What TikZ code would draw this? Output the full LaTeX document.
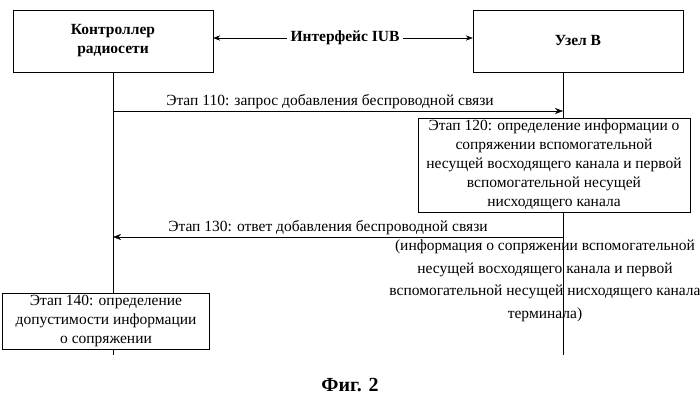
\documentclass[tikz,border=0pt]{standalone}
\usepackage{fontspec}
\setmainfont{Liberation Serif}
\usetikzlibrary{arrows.meta}

\begin{document}
\begin{tikzpicture}[x=1pt, y=-1pt, font=\fontsize{15.5}{19}\selectfont,
    entity/.style={draw, minimum width=200pt, minimum height=62pt, align=center, font=\fontsize{15.5}{19}\selectfont\bfseries},
    stepbox/.style={draw, fill=white, align=center, inner sep=2pt},
    msg/.style={-{Stealth[length=8pt]}}]
    \useasboundingbox (0,0) rectangle (700,401);
    % participants
    \node[entity] (rnc) at (113,41) {Контроллер\\радиосети};
    \node[entity, minimum width=210pt] (nodeb) at (578,41) {Узел В};
    \node[font=\fontsize{15.5}{19}\selectfont\bfseries] (iub) at (345,38) {Интерфейс IUB};
    \draw[{Stealth[length=7pt]}-] (rnc.east |- iub) -- (iub.west);
    \draw[-{Stealth[length=7pt]}] (iub.east) -- (nodeb.west |- iub);
    % lifelines
    \coordinate (rncend) at (113,355);
    \coordinate (nbend) at (563,355);
    \draw (rnc.south -| rncend) -- (rncend);
    \draw (nodeb.south -| nbend) -- (nbend);
    % messages
    \coordinate (m1a) at (113,111);
    \coordinate (m1b) at (563,111);
    \draw[msg] (m1a) -- node[above, yshift=-1pt, xshift=-8pt] (l110) {Этап 110: запрос добавления беспроводной связи} (m1b);
    \node[stepbox, minimum width=272pt, minimum height=94pt] (s120) at (554,165) {Этап 120: определение информации о\\сопряжении вспомогательной\\несущей восходящего канала и первой\\вспомогательной несущей\\нисходящего канала};
    \coordinate (m2a) at (563,237);
    \coordinate (m2b) at (113,237);
    \draw[msg] (m2a) -- node[above, yshift=-1pt, xshift=-10pt] (l130) {Этап 130: ответ добавления беспроводной связи} (m2b);
    \node[align=center, inner sep=1pt, font=\fontsize{15.5}{22.5}\selectfont] (info) at (545,281) {(информация о сопряжении вспомогательной\\несущей восходящего канала и первой\\вспомогательной несущей нисходящего канала\\терминала)};
    \node[stepbox, minimum width=207pt, minimum height=42pt] (s140) at (106,321) {Этап 140: определение\\допустимости информации\\о сопряжении};
    \node[font=\fontsize{20}{22}\selectfont\bfseries] (fig) at (350,385) {Фиг. 2};
\end{tikzpicture}
\end{document}
